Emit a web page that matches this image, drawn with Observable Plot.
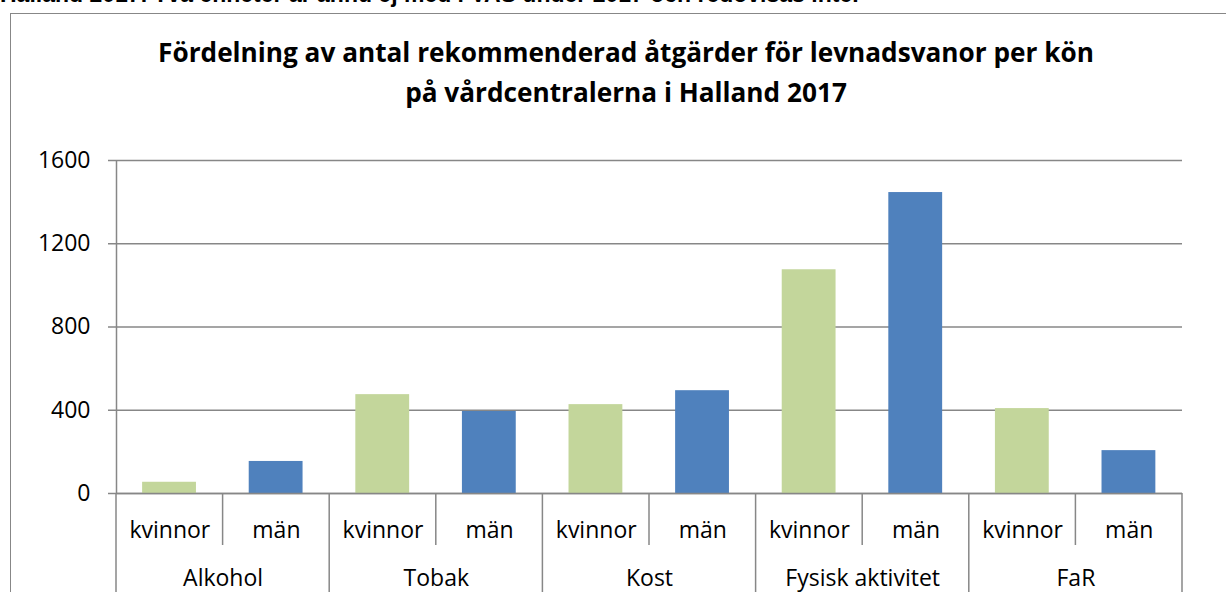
<!DOCTYPE html>
<html>
<head>
<meta charset="utf-8">
<script src="https://cdn.jsdelivr.net/npm/d3@7"></script>
<script src="https://cdn.jsdelivr.net/npm/@observablehq/plot@0.6"></script>
<style>
  html, body { margin: 0; padding: 0; background: #fff; overflow: hidden; }
  #wrap { position: relative; width: 1226px; height: 592px; overflow: hidden; background: #fff; }
  #note { position: absolute; left: 0; top: -19px; font: bold 23px "Liberation Sans", Arial, sans-serif; color: #000; white-space: nowrap; line-height: 27px; }
  #box { position: absolute; left: 10px; top: 13px; width: 1240px; height: 620px; border: 1.5px solid #878787; box-sizing: border-box; }
  #title { position: absolute; left: 0; width: 1252px; top: 32px; text-align: center; font: bold 26.2px "Open Sans", sans-serif; line-height: 40px; color: #000; }
  #chart { position: absolute; left: 0; top: 0; }
  #chart svg { background: transparent !important; overflow: visible; }
  #chart g[aria-label="y-axis tick"] path { stroke: #878787; stroke-width: 1.5; }
</style>
</head>
<body>
<div id="wrap">
  <div id="box"></div>
  <div id="note">Halland 2017. Två enheter är ännu ej med i VAS under 2017 och redovisas inte.</div>
  <div id="title">Fördelning av antal rekommenderad åtgärder för levnadsvanor per kön<br>på vårdcentralerna i Halland 2017</div>
  <div id="chart"></div>
</div>
<script>
const groups = ["Alkohol", "Tobak", "Kost", "Fysisk aktivitet", "FaR"];
const sexes = ["kvinnor", "män"];
const kvinnor = [54, 475, 427, 1075, 408];
const man = [154, 394, 494, 1446, 206];
const yTicks = [0, 400, 800, 1200, 1600];
const colors = ["#C3D69B", "#4F81BD"];

const rows = [];
groups.forEach((g, gi) => {
  [kvinnor, man].forEach((arr, si) => {
    rows.push({group: g, sex: sexes[si], value: arr[gi], i: gi * sexes.length + si});
  });
});
const bounds = d3.range(rows.length + 1);
const gray = "#878787";
const font = "Open Sans, sans-serif";

const tableMark = (index, scales, values, dimensions) => {
  const g = d3.create("svg:g");
  const y0 = scales.y(0);
  for (const b of bounds) {
    const long = b % sexes.length === 0;
    g.append("line")
      .attr("x1", scales.x(b)).attr("x2", scales.x(b))
      .attr("y1", y0).attr("y2", long ? dimensions.height + 10 : y0 + 52)
      .attr("stroke", gray).attr("stroke-width", 1.5);
  }
  return g.node();
};

const plot = Plot.plot({
  width: 1226,
  height: 592,
  marginLeft: 116,
  marginRight: 44,
  marginTop: 160,
  marginBottom: 99,
  style: {fontFamily: font, fontSize: "23px", color: "#000", background: "transparent", overflow: "visible"},
  x: {domain: [0, rows.length], axis: null},
  y: {domain: [0, 1600], ticks: yTicks, tickSize: 8, tickPadding: 18, label: null, tickFormat: d => String(d)},
  color: {domain: sexes, range: colors},
  marks: [
    Plot.ruleY(yTicks, {stroke: gray, strokeWidth: 1.5}),
    Plot.rectY(rows, {x1: d => d.i + 0.245, x2: d => d.i + 0.75, y: "value", fill: "sex"}),
    Plot.ruleY([0], {stroke: gray, strokeWidth: 1.5}),
    Plot.ruleX([0], {stroke: gray, strokeWidth: 1.5}),
    tableMark,
    Plot.text(rows, {x: d => d.i + 0.5, text: "sex", frameAnchor: "bottom", dy: 44, fontSize: 23, fill: "#000"}),
    Plot.text(groups, {x: (d, i) => i * sexes.length + sexes.length / 2, text: d => d, frameAnchor: "bottom", dy: 92, fontSize: 23, fill: "#000"})
  ]
});
document.getElementById("chart").appendChild(plot);
</script>
</body>
</html>
